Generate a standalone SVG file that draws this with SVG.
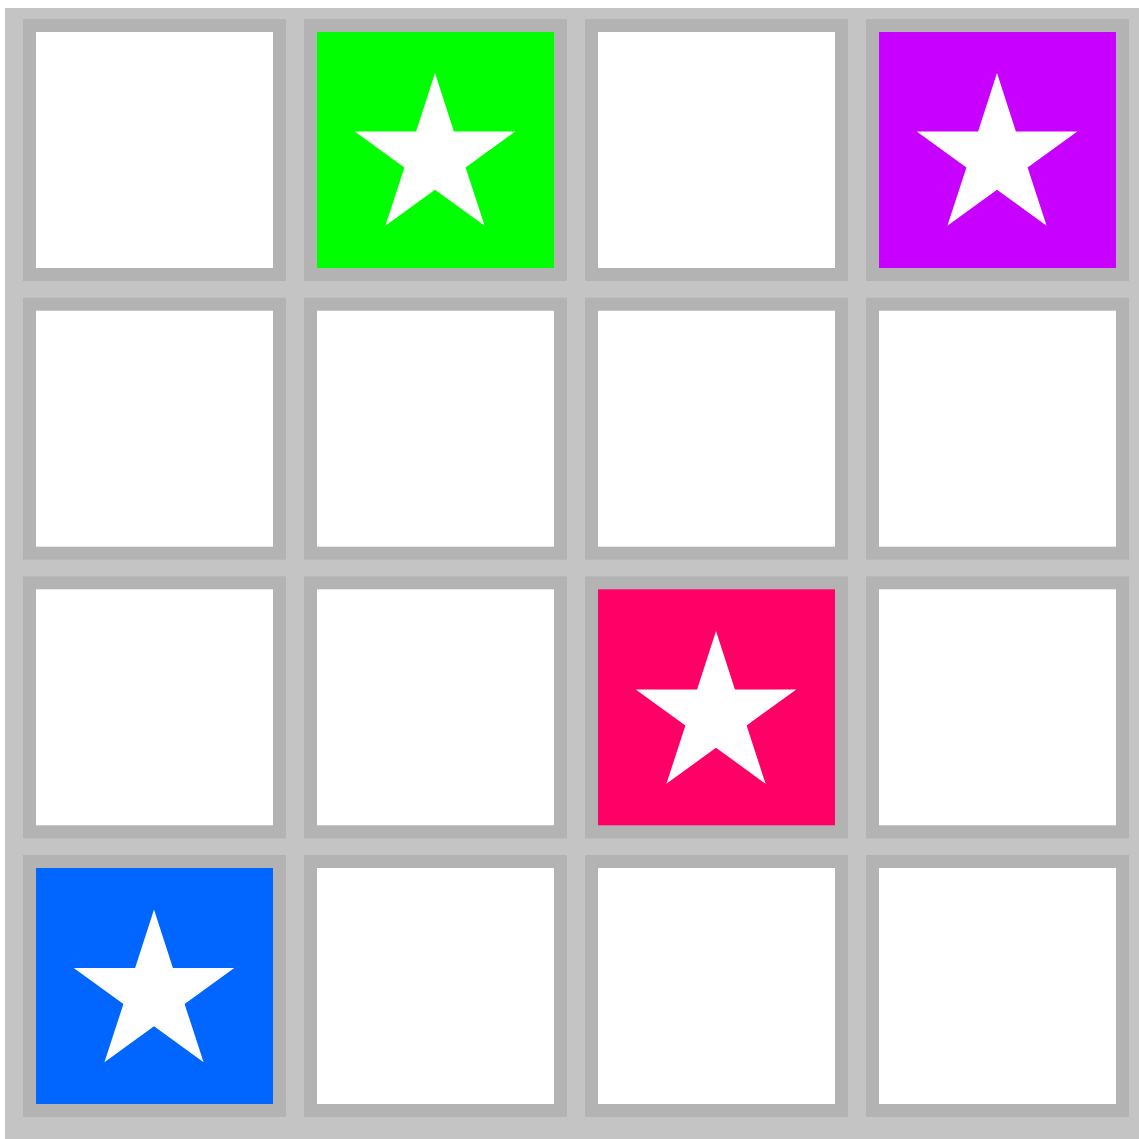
<svg xmlns="http://www.w3.org/2000/svg" xmlns:xlink="http://www.w3.org/1999/xlink" width="1139" height="1139" viewBox="0 0 1139 1139">
<style>
.tile{stroke:#b3b3b3;stroke-width:13}
.empty{fill:#ffffff}
.star{fill:#ffffff}
</style>
<defs>
<path id="star" d="M0,-84.4 L18.9,-26 L80.3,-26.1 L30.6,9.95 L49.6,68.3 L0,32.2 L-49.6,68.3 L-30.6,9.95 L-80.3,-26.1 L-18.9,-26 Z"/>
</defs>
<rect x="5" y="8" width="1134" height="1131" fill="#c4c4c4"/>
<g id="nodes">
<g id="r1c1"><rect class="tile empty" x="29.5" y="25.5" width="250" height="249"/></g>
<g id="r1c2"><rect class="tile" fill="#00ff00" x="310.5" y="25.5" width="250" height="249"/><use href="#star" class="star" transform="translate(435,157.5)"/></g>
<g id="r1c3"><rect class="tile empty" x="591.5" y="25.5" width="250" height="249"/></g>
<g id="r1c4"><rect class="tile" fill="#c800ff" x="872.5" y="25.5" width="250" height="249"/><use href="#star" class="star" transform="translate(997,157.5)"/></g>
<g id="r2c1"><rect class="tile empty" x="29.5" y="304.2" width="250" height="249"/></g>
<g id="r2c2"><rect class="tile empty" x="310.5" y="304.2" width="250" height="249"/></g>
<g id="r2c3"><rect class="tile empty" x="591.5" y="304.2" width="250" height="249"/></g>
<g id="r2c4"><rect class="tile empty" x="872.5" y="304.2" width="250" height="249"/></g>
<g id="r3c1"><rect class="tile empty" x="29.5" y="582.8" width="250" height="249"/></g>
<g id="r3c2"><rect class="tile empty" x="310.5" y="582.8" width="250" height="249"/></g>
<g id="r3c3"><rect class="tile" fill="#ff0066" x="591.5" y="582.8" width="250" height="249"/><use href="#star" class="star" transform="translate(716,715.5)"/></g>
<g id="r3c4"><rect class="tile empty" x="872.5" y="582.8" width="250" height="249"/></g>
<g id="r4c1"><rect class="tile" fill="#0066ff" x="29.5" y="861.5" width="250" height="249"/><use href="#star" class="star" transform="translate(154,994)"/></g>
<g id="r4c2"><rect class="tile empty" x="310.5" y="861.5" width="250" height="249"/></g>
<g id="r4c3"><rect class="tile empty" x="591.5" y="861.5" width="250" height="249"/></g>
<g id="r4c4"><rect class="tile empty" x="872.5" y="861.5" width="250" height="249"/></g>
</g>
<g id="connectors"/>
</svg>
